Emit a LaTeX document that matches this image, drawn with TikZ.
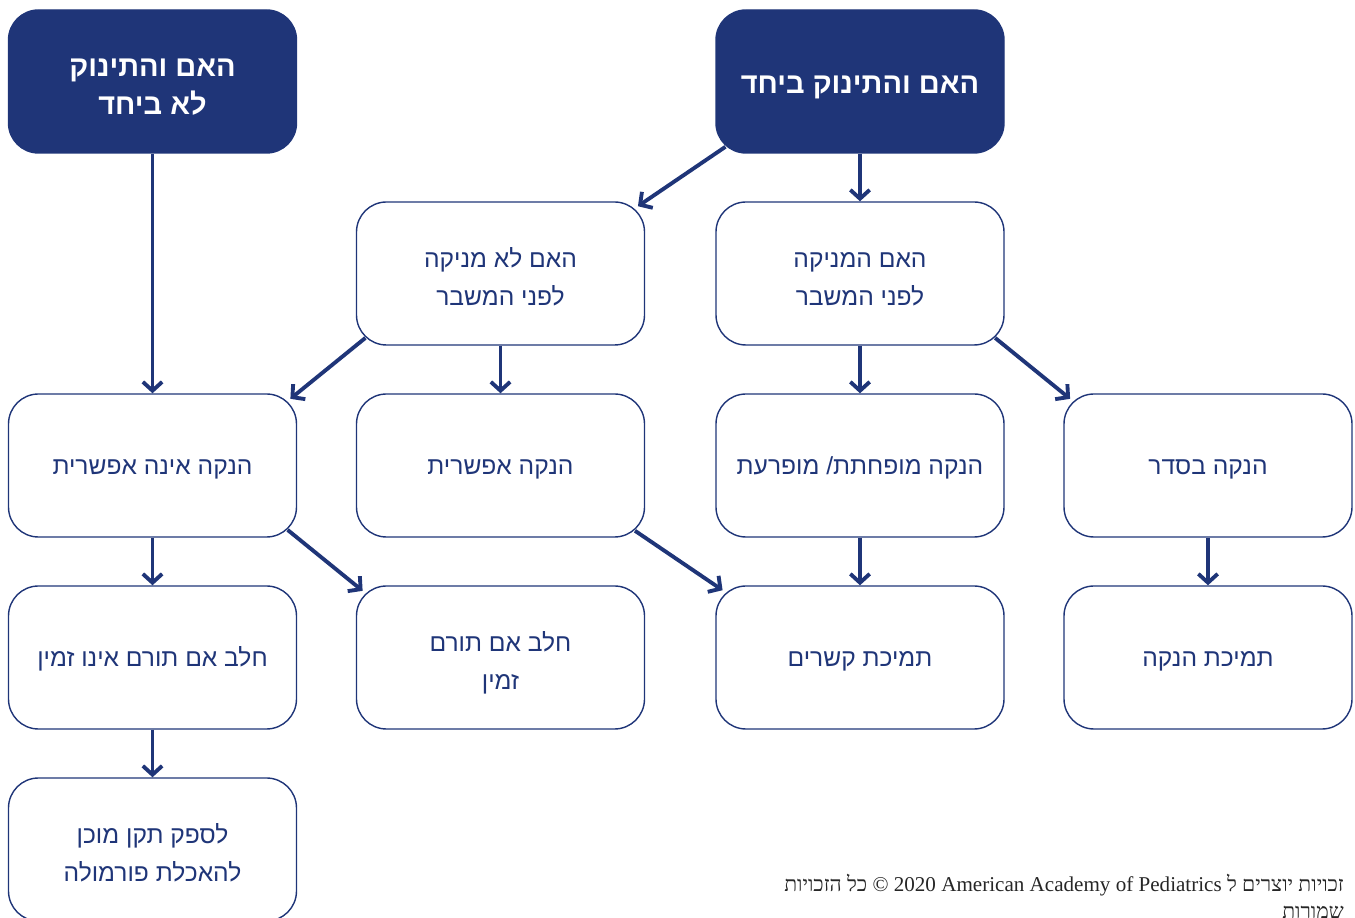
\documentclass[tikz,border=0pt]{standalone}
\usepackage{fontspec}
\setmainfont{Liberation Serif}
\newfontfamily\hebfont[Script=Hebrew]{Liberation Sans}
\newfontfamily\hebserif[Script=Hebrew]{Liberation Serif}
\TeXXeTstate=1
\usetikzlibrary{arrows.meta}
\definecolor{aapblue}{RGB}{31,53,120}
\newcommand{\heb}[1]{\beginR #1\endR}

\begin{document}
\begin{tikzpicture}[
  box/.style={draw=aapblue, line width=0.8pt, rounded corners=0.6cm, minimum width=5.76cm, minimum height=2.86cm, align=center, text=aapblue, font=\hebfont\fontsize{14}{21.5}\selectfont,
    execute at begin node={\rule{0pt}{14pt}}, execute at end node={\rule[-4pt]{0pt}{4pt}}},
  twoline/.style={execute at begin node={\rule{0pt}{#1}}},
  twoline/.default=40.5pt,
  topbox/.style={box, fill=aapblue, text=white, font=\hebfont\bfseries\fontsize{16.5}{21.5}\selectfont,
    execute at begin node={\rule{0pt}{18pt}}},
  arr/.style={draw=aapblue, line width=2.2pt, -{Straight Barb[length=5pt,width=11pt]}},
  diag/.style={arr, shorten <=-7pt, shorten >=-5pt}
]
\clip (0,0) rectangle (27.1,18.36);
% top row
\node[topbox, twoline=41.5pt] (apart) at (3.05,16.73) {\heb{האם והתינוק}\\ \heb{לא ביחד}};
\node[topbox] (together) at (17.2,16.73) {\heb{האם והתינוק ביחד}};
% before the crisis
\node[box, twoline] (notbf) at (10.01,12.89) {\heb{האם לא מניקה}\\ \heb{לפני המשבר}};
\node[box, twoline] (bf) at (17.2,12.89) {\heb{האם המניקה}\\ \heb{לפני המשבר}};
% breastfeeding options
\node[box] (nobfposs) at (3.05,9.05) {\heb{הנקה אינה אפשרית}};
\node[box] (bfposs) at (10.01,9.05) {\heb{הנקה אפשרית}};
\node[box] (reduced) at (17.2,9.05) {\heb{הנקה מופחתת/ מופרעת}};
\node[box] (normal) at (24.16,9.05) {\heb{הנקה בסדר}};
% support
\node[box] (nodonor) at (3.05,5.21) {\heb{חלב אם תורם אינו זמין}};
\node[box, twoline] (donor) at (10.01,5.21) {\heb{חלב אם תורם}\\ \heb{זמין}};
\node[box] (relact) at (17.2,5.21) {\heb{תמיכת קשרים}};
\node[box] (bfsupport) at (24.16,5.21) {\heb{תמיכת הנקה}};
\node[box, twoline] (formula) at (3.05,1.37) {\heb{לספק תקן מוכן}\\ \heb{להאכלת פורמולה}};
% arrows
\draw[arr] (apart) -- (nobfposs);
\draw[arr] (together) -- (bf);
\draw[diag] (together.south west) -- (notbf.north east);
\draw[arr] (notbf) -- (bfposs);
\draw[diag] (notbf.south west) -- (nobfposs.north east);
\draw[arr] (bf) -- (reduced);
\draw[diag] (bf.south east) -- (normal.north west);
\draw[arr] (nobfposs) -- (nodonor);
\draw[diag] (nobfposs.south east) -- (donor.north west);
\draw[diag] (bfposs.south east) -- (relact.north west);
\draw[arr] (reduced) -- (relact);
\draw[arr] (normal) -- (bfsupport);
\draw[arr] (nodonor) -- (formula);
% copyright
\node[anchor=base east, text=black!85, font=\hebserif\fontsize{12}{14}\selectfont] (copy1) at (27.0,0.52) {\beginR זכויות יוצרים ל \beginL 2020 American Academy of Pediatrics\endL{} © כל הזכויות\endR};
\node[anchor=base east, text=black!85, font=\hebserif\fontsize{12}{14}\selectfont] (copy2) at (27.0,-0.02) {\heb{שמורות}};
\end{tikzpicture}
\end{document}
